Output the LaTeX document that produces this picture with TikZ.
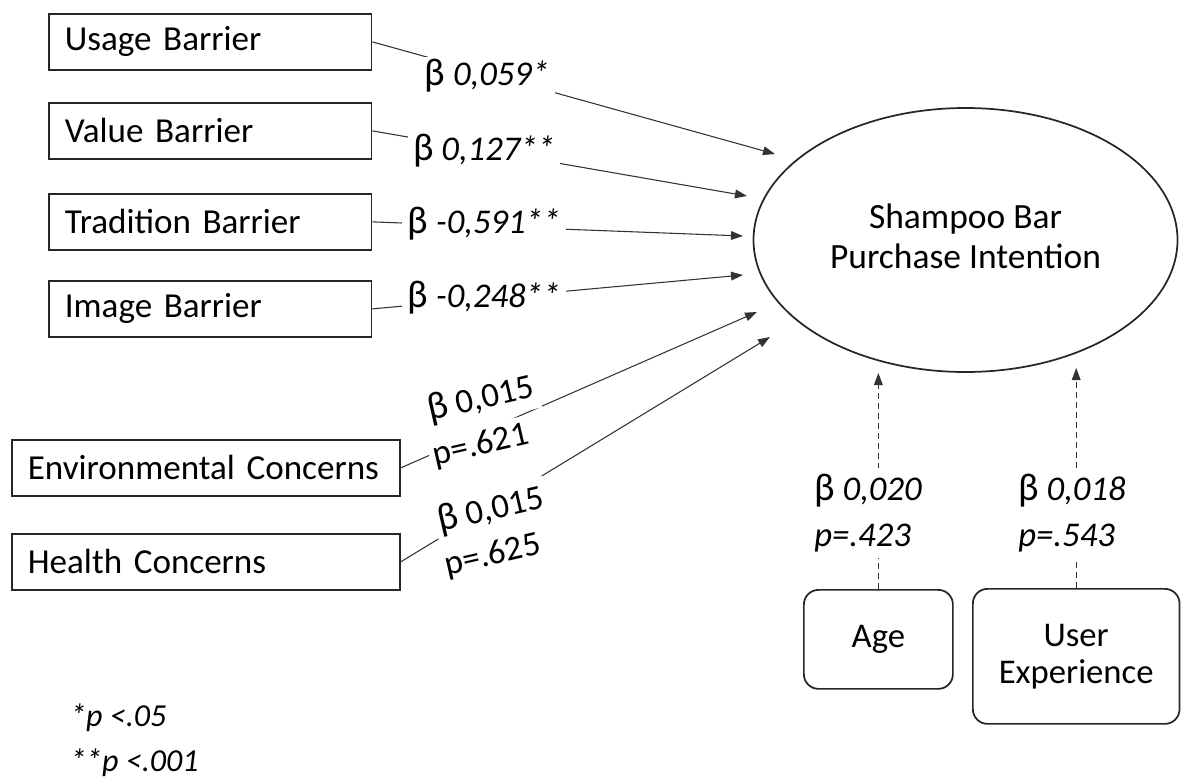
\documentclass[tikz,border=0pt]{standalone}
\usepackage{fontspec}
\setmainfont{Carlito}
\usetikzlibrary{arrows.meta,shapes.geometric}
\newcommand{\bt}{{\upshape\fontsize{29}{31}\selectfont β}}
\begin{document}
\begin{tikzpicture}[x=0.75pt,y=-0.75pt,
  box/.style={draw=black!85, line width=1.3pt, rectangle, anchor=north west,
    inner xsep=12pt, inner ysep=0pt, align=left, minimum height=42pt,
    font=\fontsize{26.3}{31}\selectfont},
  rbox/.style={draw=black!85, line width=1.3pt, rectangle, rounded corners=11pt,
    anchor=north west, align=center, font=\fontsize{26}{28}\selectfont},
  conn/.style={draw=black!80, line width=0.8pt, -{Triangle[length=9pt,width=6.5pt]}},
  dconn/.style={conn, dash pattern=on 4.5pt off 3pt},
  lab/.style={fill=white, inner xsep=4pt, inner ysep=2pt, font=\fontsize{26}{31}\selectfont\itshape},
  ulab/.style={fill=white, inner xsep=3pt, inner ysep=4pt, rotate=13,
    font=\fontsize{26}{31}\selectfont},
  mlab/.style={fill=white, inner xsep=2pt, inner ysep=4pt, align=left,
    font=\fontsize{26}{31}\selectfont\itshape},
  note/.style={anchor=west, inner sep=0pt, font=\fontsize{24}{28}\selectfont\itshape}
]
\useasboundingbox (0,0) rectangle (1181,778);

% predictor boxes
\node[box, text width=218pt] (ub) at (48,13)  {Usage Barrier};
\node[box, text width=218pt] (vb) at (48,102) {Value Barrier};
\node[box, text width=218pt] (tb) at (48,193) {Tradition Barrier};
\node[box, text width=218pt] (ib) at (48,280) {Image Barrier};
\node[box, text width=267pt] (ec) at (11,439) {Environmental Concerns};
\node[box, text width=267pt] (hc) at (11,533) {Health Concerns};

% outcome
\node[draw=black!85, line width=1.3pt, ellipse, minimum width=318pt, minimum height=198pt,
  inner sep=0pt, label={[align=center, yshift=3pt, font=\fontsize{26.6}{30}\selectfont]center:Shampoo Bar\\Purchase Intention}] (spi) at (965.5,240) {};

% control boxes
\node[rbox, minimum width=111.75pt, minimum height=74.25pt] (age) at (803,589) {Age};
\node[rbox, minimum width=155pt, minimum height=101.25pt] (ux) at (972,588) {User\\Experience};

% arrow ends
\coordinate (t1) at (775,154);
\coordinate (t2) at (747,196);
\coordinate (t3) at (743,236);
\coordinate (t4) at (743,275);
\coordinate (t5) at (757,312);
\coordinate (t6) at (770,337);
\coordinate (ta) at (age.north |- 0,373);
\coordinate (tu) at (ux.north |- 0,368);

% connectors
\draw[conn] (ub.east) -- (t1);
\draw[conn] (vb.east) -- (t2);
\draw[conn] (tb.east) -- (t3);
\draw[conn] (ib.east) -- (t4);
\draw[conn] (ec.east) -- (t5);
\draw[conn] (hc.east) -- (t6);
\draw[dconn] (age.north) -- (ta);
\draw[dconn] (ux.north) -- (tu);

% coefficient labels
\node[lab] (l1) at (487,76)  {\bt{} 0,059*};
\node[lab] (l2) at (484,151) {\bt{} 0,127**};
\node[lab] (l3) at (484,224) {\bt{} -0,591**};
\node[lab] (l4) at (484,298) {\bt{} -0,248**};
\node[ulab] (l5a) at (481,399) {\bt{} 0,015};
\node[ulab] (l5b) at (481,446) {p=.621};
\node[ulab] (l6a) at (491,510) {\bt{} 0,015};
\node[ulab] (l6b) at (493,556) {p=.625};
\node[mlab] (la) at (868,513) {\bt{} 0,020\\[4pt]p=.423};
\node[mlab] (lu) at (1072,513) {\bt{} 0,018\\[4pt]p=.543};

% significance notes
\node[note] (n1) at (70,718) {*p <.05};
\node[note] (n2) at (70,763) {**p <.001};
\end{tikzpicture}
\end{document}
